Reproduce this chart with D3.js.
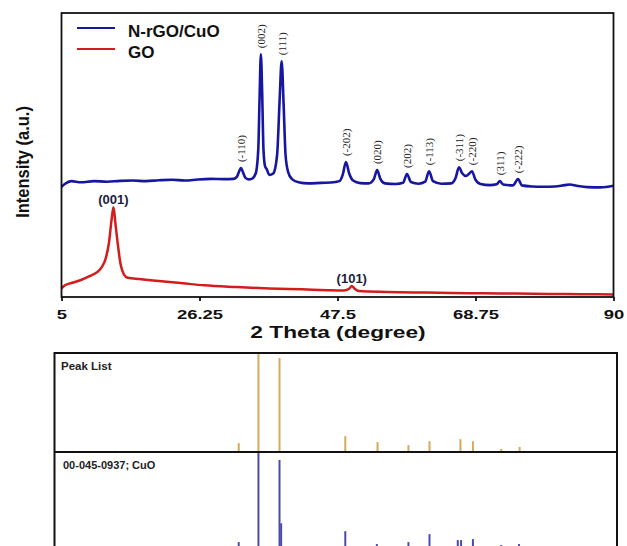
<!DOCTYPE html>
<html>
<head>
<meta charset="utf-8">
<script src="https://cdn.jsdelivr.net/npm/d3@7"></script>
<style>
  body { margin: 0; background: #fff; }
  svg { display: block; }
</style>
</head>
<body>
<svg id="xrd" width="627" height="546"></svg>
<script>
// N-rGO/CuO pattern (2 theta, intensity a.u.)
var cuoTheta = [5.0, 5.5, 6.5, 8, 10, 12, 14, 16, 18, 20, 22, 24, 26, 28, 30, 31.5,
  32.0, 32.4, 32.65, 32.9, 33.3, 33.8, 34.3, 34.9, 35.3, 35.5, 35.7, 35.9, 36.1, 36.35, 36.6, 37.0,
  37.6, 38.2, 38.6, 38.9, 39.2, 39.5, 39.9, 40.5, 41.5, 43, 45, 46.5, 47.8, 48.3, 48.8, 49.3,
  49.9, 51, 52.3, 53.1, 53.6, 54.1, 54.8, 56.5, 57.6, 58.2, 58.8, 60, 61.0, 61.6, 62.2, 63.5,
  65.0, 65.7, 66.2, 66.7, 67.3, 67.8, 68.2, 68.7, 69.5, 71, 72.0, 72.5, 73.0, 74.5, 75.3, 75.9,
  77.5, 79, 81, 82.5, 83.3, 84.3, 86, 88, 90];
var cuoIntensity = [38.8, 39.8, 40.8, 40.4, 40.8, 40.6, 40.9, 41.0, 40.8, 41.1, 41.3, 41.0, 41.4, 41.6, 41.5, 41.6,
  42.3, 44.5, 45.4, 44.2, 42.0, 41.4, 41.6, 43.5, 52, 70, 85.5, 72, 52, 46, 45.0, 43.0,
  43.5, 50, 70, 83, 68, 50, 44, 41.5, 40.4, 40.0, 40.2, 40.3, 40.8, 43.0, 47.5, 43.5,
  41.0, 40.1, 40.0, 41.5, 44.7, 41.6, 40.0, 39.8, 40.2, 43.3, 40.5, 39.9, 40.6, 44.3, 40.8, 39.9,
  40.0, 42.0, 45.7, 43.6, 42.6, 43.5, 44.3, 41.5, 39.8, 39.4, 39.7, 40.8, 39.6, 39.3, 41.5, 39.3,
  38.9, 38.8, 38.9, 39.4, 39.6, 39.2, 38.7, 38.6, 39.2];

// GO pattern
var goTheta = [5.0, 5.6, 6.8, 8.0, 9.4, 10.4, 11.2, 11.8, 12.3, 12.7, 13.0, 13.3, 13.7, 14.1, 14.6, 15.2,
  17, 20, 23, 27, 32, 37, 42, 46, 48.5, 49.3, 49.7, 50.1, 50.8, 55, 60, 65, 70, 75, 80, 85, 90];
var goIntensity = [3.0, 4.2, 5.1, 6.0, 7.4, 8.6, 10.5, 13.5, 19, 27, 31.6, 26, 18, 11.5, 8.0, 6.8,
  6.3, 5.6, 5.0, 4.1, 3.5, 3.0, 2.7, 2.4, 2.3, 2.9, 3.9, 3.0, 2.1, 1.8, 1.6, 1.4, 1.3, 1.2, 1.1, 1.0, 0.9];

// peak indexing
var hklLabels = ["(-110)", "(002)", "(111)", "(-202)", "(020)", "(202)", "(-113)", "(-311)", "(-220)", "(311)", "(-222)"];
var hklTheta = [32.65, 35.7, 38.9, 48.8, 53.6, 58.2, 61.6, 66.2, 68.2, 72.5, 75.3];
var goLabels = ["(001)", "(101)"];
var goLabelTheta = [13.0, 49.7];

var xTicks = [5, 26.25, 47.5, 68.75, 90];

// stick patterns (relative intensity, %)
var peakListTheta = [32.5, 35.5, 38.7, 48.7, 53.6, 58.3, 61.5, 66.2, 68.1, 72.4, 75.2];
var peakListIntensity = [9, 100, 95, 16, 10, 7, 11, 13, 11, 3, 5];
var refTheta = [32.5, 35.5, 38.7, 38.95, 48.7, 53.5, 58.3, 61.5, 65.8, 66.3, 68.1, 72.4, 75.1, 82.6];
var refIntensity = [9, 100, 92, 28, 20, 7, 9, 17, 11, 11, 12, 6, 7, 3];

var svg = d3.select("#xrd");

// ---------- upper panel ----------
var upper = { left: 61.5, right: 613.5, top: 13, bottom: 297 };

var x = d3.scaleLinear().domain([5, 90]).range([upper.left, upper.right]);
var y = d3.scaleLinear().domain([0, 100]).range([upper.bottom, upper.top]);

var line = d3.line()
  .x(d => x(d[0]))
  .y(d => y(d[1]))
  .curve(d3.curveMonotoneX);

var cuoData = cuoTheta.map((t, i) => [t, cuoIntensity[i]]);
var goData = goTheta.map((t, i) => [t, goIntensity[i]]);

svg.append("path")
  .attr("d", line(goData))
  .attr("fill", "none")
  .attr("stroke", "#d41c1c")
  .attr("stroke-width", 2.5);

svg.append("path")
  .attr("d", line(cuoData))
  .attr("fill", "none")
  .attr("stroke", "#1616a0")
  .attr("stroke-width", 2.6);

// peak height near a position
function peakAt(data, t) {
  return d3.max(data.filter(d => Math.abs(d[0] - t) < 0.4), d => d[1]);
}

svg.selectAll(".hkl")
  .data(hklLabels)
  .join("text")
  .attr("class", "hkl")
  .attr("transform", (d, i) => "translate(" + (x(hklTheta[i]) + 4) + "," + (y(peakAt(cuoData, hklTheta[i])) - 6) + ") rotate(-90)")
  .attr("font-family", "Liberation Serif, Times New Roman, serif")
  .attr("font-size", 11)
  .attr("fill", "#222")
  .text(d => d);

svg.selectAll(".golab")
  .data(goLabels)
  .join("text")
  .attr("class", "golab")
  .attr("x", (d, i) => x(goLabelTheta[i]))
  .attr("y", (d, i) => y(peakAt(goData, goLabelTheta[i])) - 3)
  .attr("text-anchor", "middle")
  .attr("font-family", "Liberation Sans, Arial, sans-serif")
  .attr("font-weight", "bold")
  .attr("font-size", 13)
  .attr("fill", "#1c1c3c")
  .text(d => d);

// frame
svg.append("rect")
  .attr("x", upper.left)
  .attr("y", upper.top)
  .attr("width", upper.right - upper.left)
  .attr("height", upper.bottom - upper.top)
  .attr("fill", "none")
  .attr("stroke", "#111")
  .attr("stroke-width", 1.8);

var bottomAxis = d3.axisBottom(x)
  .tickValues(xTicks)
  .tickFormat(String)
  .tickSize(4)
  .tickPadding(9);

var xAxis = svg.append("g")
  .attr("transform", "translate(0," + upper.bottom + ")")
  .call(bottomAxis);
xAxis.select(".domain").remove();
xAxis.selectAll("line").attr("stroke", "#111").attr("stroke-width", 1.8);
xAxis.selectAll("text")
  .attr("font-family", "Liberation Sans, Arial, sans-serif")
  .attr("font-weight", "bold")
  .attr("font-size", 13)
  .attr("fill", "#111")
  .attr("transform", "scale(1.42,1)");

svg.append("text")
  .attr("transform", "translate(338,338) scale(1.42,1)")
  .attr("text-anchor", "middle")
  .attr("font-family", "Liberation Sans, Arial, sans-serif")
  .attr("font-weight", "bold")
  .attr("font-size", 16)
  .attr("fill", "#111")
  .text("2 Theta (degree)");

svg.append("text")
  .attr("transform", "translate(29,162) rotate(-90) scale(1,1.15)")
  .attr("text-anchor", "middle")
  .attr("font-family", "Liberation Sans, Arial, sans-serif")
  .attr("font-weight", "bold")
  .attr("font-size", 16.5)
  .attr("fill", "#111")
  .text("Intensity (a.u.)");

// legend
var legend = svg.append("g");
[["N-rGO/CuO", "#1616a0", 28], ["GO", "#d41c1c", 49]].forEach(function(item) {
  legend.append("line")
    .attr("x1", 77).attr("x2", 115)
    .attr("y1", item[2]).attr("y2", item[2])
    .attr("stroke", item[1])
    .attr("stroke-width", 2.2);
  legend.append("text")
    .attr("x", 128)
    .attr("y", item[2] + 9)
    .attr("font-family", "Liberation Sans, Arial, sans-serif")
    .attr("font-weight", "bold")
    .attr("font-size", 17)
    .attr("fill", "#111")
    .text(item[0]);
});

// ---------- lower panel (stick patterns) ----------
var low = { left: 54.5, right: 617, top: 353, mid: 452, bottom: 551 };

var xs = d3.scaleLinear().domain([4.5, 90]).range([low.left, low.right]);
var yPeak = d3.scaleLinear().domain([0, 100]).range([low.mid, low.top]);
var yRef = d3.scaleLinear().domain([0, 100]).range([low.bottom, low.mid]);

svg.selectAll(".pk")
  .data(peakListTheta)
  .join("line")
  .attr("class", "pk")
  .attr("x1", d => xs(d)).attr("x2", d => xs(d))
  .attr("y1", yPeak(0))
  .attr("y2", (d, i) => yPeak(peakListIntensity[i]))
  .attr("stroke", "#d6aa5c")
  .attr("stroke-width", 2);

svg.selectAll(".ref")
  .data(refTheta)
  .join("line")
  .attr("class", "ref")
  .attr("x1", d => xs(d)).attr("x2", d => xs(d))
  .attr("y1", yRef(0))
  .attr("y2", (d, i) => yRef(refIntensity[i]))
  .attr("stroke", "#4a4aa8")
  .attr("stroke-width", 2);

svg.append("rect")
  .attr("x", low.left)
  .attr("y", low.top)
  .attr("width", low.right - low.left)
  .attr("height", low.bottom - low.top)
  .attr("fill", "none")
  .attr("stroke", "#111")
  .attr("stroke-width", 2);

svg.append("line")
  .attr("x1", low.left).attr("x2", low.right)
  .attr("y1", low.mid).attr("y2", low.mid)
  .attr("stroke", "#111")
  .attr("stroke-width", 2);

svg.append("text")
  .attr("x", 61)
  .attr("y", 370)
  .attr("font-family", "Liberation Sans, Arial, sans-serif")
  .attr("font-weight", "bold")
  .attr("font-size", 11.5)
  .attr("fill", "#222")
  .text("Peak List");

svg.append("text")
  .attr("x", 63)
  .attr("y", 469)
  .attr("font-family", "Liberation Sans, Arial, sans-serif")
  .attr("font-weight", "bold")
  .attr("font-size", 11)
  .attr("fill", "#222")
  .text("00-045-0937; CuO");
</script>
</body>
</html>
